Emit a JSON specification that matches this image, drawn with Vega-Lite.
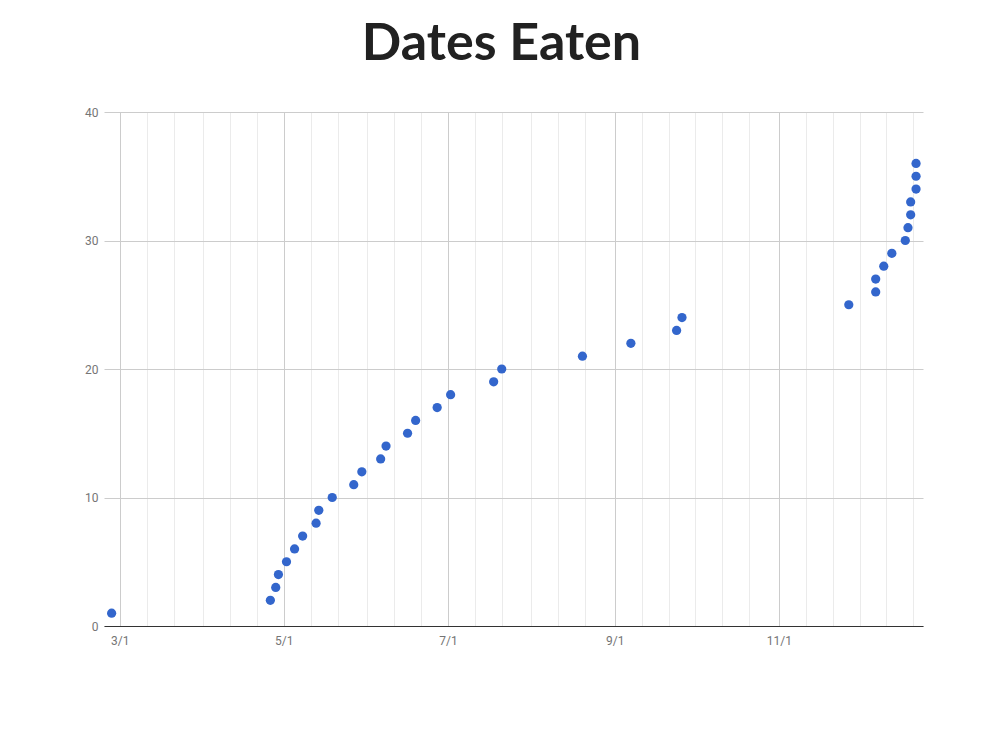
{
  "$schema": "https://vega.github.io/schema/vega-lite/v6.json",
  "autosize": "none",
  "width": 819,
  "height": 514,
  "padding": {"left": 104, "top": 112, "right": 77, "bottom": 124},
  "background": "white",
  "title": {"text": "Dates Eaten", "font": "Lato", "fontSize": 52, "fontWeight": "bold", "color": "#212121", "anchor": "middle", "offset": 35, "dx": -12},
  "data": {"values": [
    {"date": "2017-02-26", "count": 1},
    {"date": "2017-04-26", "count": 2},
    {"date": "2017-04-28", "count": 3},
    {"date": "2017-04-29", "count": 4},
    {"date": "2017-05-02", "count": 5},
    {"date": "2017-05-05", "count": 6},
    {"date": "2017-05-08", "count": 7},
    {"date": "2017-05-13", "count": 8},
    {"date": "2017-05-14", "count": 9},
    {"date": "2017-05-19", "count": 10},
    {"date": "2017-05-27", "count": 11},
    {"date": "2017-05-30", "count": 12},
    {"date": "2017-06-06", "count": 13},
    {"date": "2017-06-08", "count": 14},
    {"date": "2017-06-16", "count": 15},
    {"date": "2017-06-19", "count": 16},
    {"date": "2017-06-27", "count": 17},
    {"date": "2017-07-02", "count": 18},
    {"date": "2017-07-18", "count": 19},
    {"date": "2017-07-21", "count": 20},
    {"date": "2017-08-20", "count": 21},
    {"date": "2017-09-07", "count": 22},
    {"date": "2017-09-24", "count": 23},
    {"date": "2017-09-26", "count": 24},
    {"date": "2017-11-27", "count": 25},
    {"date": "2017-12-07", "count": 26},
    {"date": "2017-12-07", "count": 27},
    {"date": "2017-12-10", "count": 28},
    {"date": "2017-12-13", "count": 29},
    {"date": "2017-12-18", "count": 30},
    {"date": "2017-12-19", "count": 31},
    {"date": "2017-12-20", "count": 32},
    {"date": "2017-12-20", "count": 33},
    {"date": "2017-12-22", "count": 34},
    {"date": "2017-12-22", "count": 35},
    {"date": "2017-12-22", "count": 36}
  ]},
  "mark": {"type": "circle", "size": 85, "color": "#3366cc", "opacity": 1},
  "encoding": {
    "x": {
      "field": "date", "type": "temporal",
      "scale": {"type": "utc", "domain": [
        {"year": 2017, "month": 2, "date": 23, "hours": 4, "utc": true},
        {"year": 2017, "month": 12, "date": 24, "hours": 14, "utc": true}
      ]},
      "axis": {
        "title": null,
        "values": [
          {"year": 2017, "month": 3, "date": 1, "utc": true},
          {"year": 2017, "month": 3, "date": 11, "utc": true},
          {"year": 2017, "month": 3, "date": 21, "utc": true},
          {"year": 2017, "month": 4, "date": 1, "utc": true},
          {"year": 2017, "month": 4, "date": 11, "utc": true},
          {"year": 2017, "month": 4, "date": 21, "utc": true},
          {"year": 2017, "month": 5, "date": 1, "utc": true},
          {"year": 2017, "month": 5, "date": 11, "utc": true},
          {"year": 2017, "month": 5, "date": 21, "utc": true},
          {"year": 2017, "month": 6, "date": 1, "utc": true},
          {"year": 2017, "month": 6, "date": 11, "utc": true},
          {"year": 2017, "month": 6, "date": 21, "utc": true},
          {"year": 2017, "month": 7, "date": 1, "utc": true},
          {"year": 2017, "month": 7, "date": 11, "utc": true},
          {"year": 2017, "month": 7, "date": 21, "utc": true},
          {"year": 2017, "month": 8, "date": 1, "utc": true},
          {"year": 2017, "month": 8, "date": 11, "utc": true},
          {"year": 2017, "month": 8, "date": 21, "utc": true},
          {"year": 2017, "month": 9, "date": 1, "utc": true},
          {"year": 2017, "month": 9, "date": 11, "utc": true},
          {"year": 2017, "month": 9, "date": 21, "utc": true},
          {"year": 2017, "month": 10, "date": 1, "utc": true},
          {"year": 2017, "month": 10, "date": 11, "utc": true},
          {"year": 2017, "month": 10, "date": 21, "utc": true},
          {"year": 2017, "month": 11, "date": 1, "utc": true},
          {"year": 2017, "month": 11, "date": 11, "utc": true},
          {"year": 2017, "month": 11, "date": 21, "utc": true},
          {"year": 2017, "month": 12, "date": 1, "utc": true},
          {"year": 2017, "month": 12, "date": 11, "utc": true},
          {"year": 2017, "month": 12, "date": 21, "utc": true}
        ],
        "labelExpr": "utcdate(datum.value) == 1 && utcmonth(datum.value) % 2 == 0 ? (utcmonth(datum.value) + 1) + '/1' : ''",
        "labelOverlap": false,
        "labelFont": "Roboto",
        "labelFontSize": 12,
        "labelColor": "#757575",
        "labelPadding": 9,
        "ticks": false,
        "domainColor": "#333333",
        "domainWidth": 1,
        "grid": true,
        "gridColor": {"condition": {"test": "utcdate(datum.value) == 1 && utcmonth(datum.value) % 2 == 0", "value": "#cccccc"}, "value": "#ebebeb"},
        "gridWidth": 1
      }
    },
    "y": {
      "field": "count", "type": "quantitative",
      "scale": {"domain": [0, 40]},
      "axis": {
        "title": null,
        "values": [0, 10, 20, 30, 40],
        "labelFont": "Roboto",
        "labelFontSize": 12,
        "labelColor": "#757575",
        "labelPadding": 6,
        "ticks": false,
        "domain": false,
        "gridColor": "#cccccc",
        "gridWidth": 1
      }
    }
  },
  "config": {"view": {"stroke": null}}
}
